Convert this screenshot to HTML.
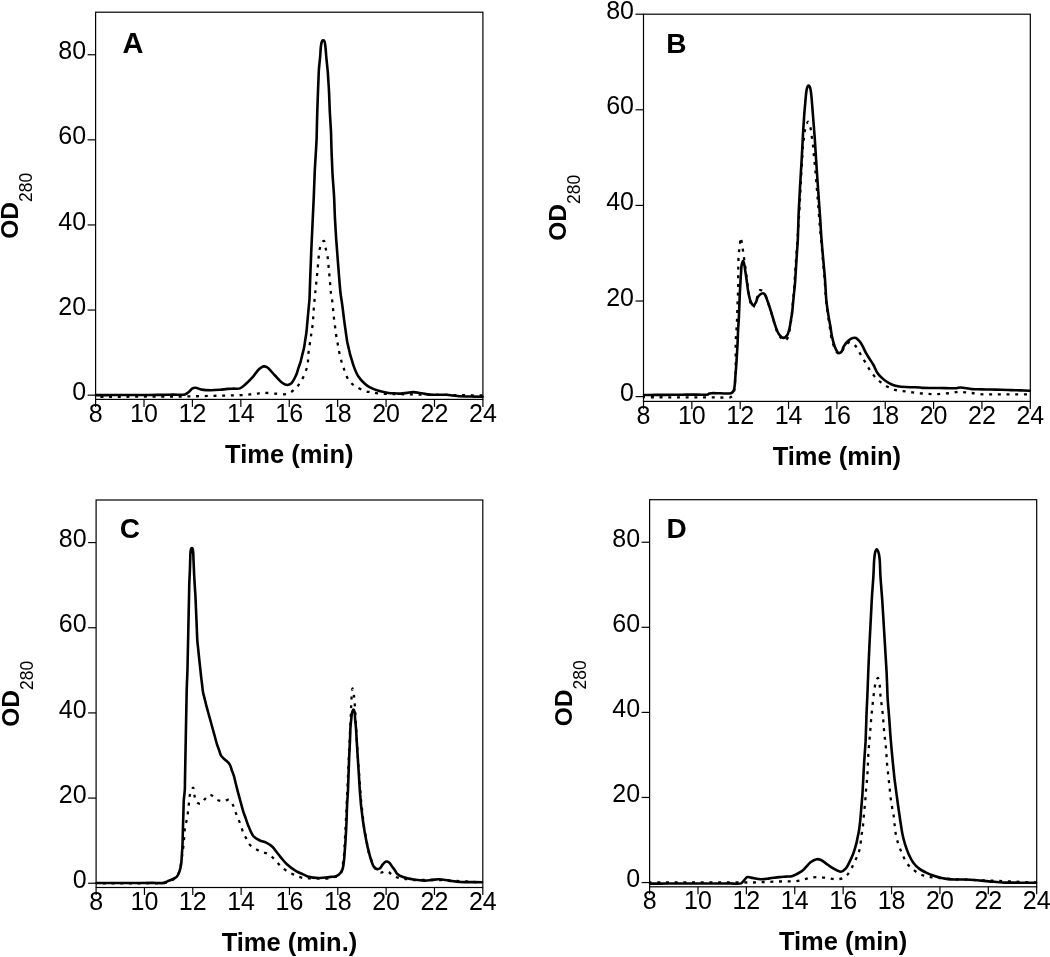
<!DOCTYPE html><html><head><meta charset="utf-8"><style>html,body{margin:0;padding:0;background:#fff;}svg{display:block;}</style></head><body>
<svg width="1050" height="957" viewBox="0 0 1050 957" style="font-family:'Liberation Sans', sans-serif;will-change:transform">
<rect width="1050" height="957" fill="#fff"/>
<g><rect x="95.6" y="12.2" width="387.30" height="387.20" fill="none" stroke="#000" stroke-width="1.2"/><line x1="87.6" y1="395.15" x2="95.6" y2="395.15" stroke="#000" stroke-width="1.2"/><text x="86.10" y="399.75" font-size="25" text-anchor="end">0</text><line x1="87.6" y1="310.05" x2="95.6" y2="310.05" stroke="#000" stroke-width="1.2"/><text x="86.10" y="314.65" font-size="25" text-anchor="end">20</text><line x1="87.6" y1="224.95" x2="95.6" y2="224.95" stroke="#000" stroke-width="1.2"/><text x="86.10" y="229.55" font-size="25" text-anchor="end">40</text><line x1="87.6" y1="139.85" x2="95.6" y2="139.85" stroke="#000" stroke-width="1.2"/><text x="86.10" y="144.45" font-size="25" text-anchor="end">60</text><line x1="87.6" y1="54.75" x2="95.6" y2="54.75" stroke="#000" stroke-width="1.2"/><text x="86.10" y="59.35" font-size="25" text-anchor="end">80</text><line x1="95.60" y1="399.4" x2="95.60" y2="406.9" stroke="#000" stroke-width="1.2"/><text x="95.60" y="422.00" font-size="25" text-anchor="middle">8</text><line x1="144.01" y1="399.4" x2="144.01" y2="406.9" stroke="#000" stroke-width="1.2"/><text x="144.01" y="422.00" font-size="25" text-anchor="middle">10</text><line x1="192.42" y1="399.4" x2="192.42" y2="406.9" stroke="#000" stroke-width="1.2"/><text x="192.42" y="422.00" font-size="25" text-anchor="middle">12</text><line x1="240.84" y1="399.4" x2="240.84" y2="406.9" stroke="#000" stroke-width="1.2"/><text x="240.84" y="422.00" font-size="25" text-anchor="middle">14</text><line x1="289.25" y1="399.4" x2="289.25" y2="406.9" stroke="#000" stroke-width="1.2"/><text x="289.25" y="422.00" font-size="25" text-anchor="middle">16</text><line x1="337.66" y1="399.4" x2="337.66" y2="406.9" stroke="#000" stroke-width="1.2"/><text x="337.66" y="422.00" font-size="25" text-anchor="middle">18</text><line x1="386.07" y1="399.4" x2="386.07" y2="406.9" stroke="#000" stroke-width="1.2"/><text x="386.07" y="422.00" font-size="25" text-anchor="middle">20</text><line x1="434.49" y1="399.4" x2="434.49" y2="406.9" stroke="#000" stroke-width="1.2"/><text x="434.49" y="422.00" font-size="25" text-anchor="middle">22</text><line x1="482.90" y1="399.4" x2="482.90" y2="406.9" stroke="#000" stroke-width="1.2"/><text x="482.90" y="422.00" font-size="25" text-anchor="middle">24</text><text x="289.25" y="462.70" font-size="25.5" font-weight="bold" text-anchor="middle">Time (min)</text><text transform="translate(18.40,205.80) rotate(-90)" font-size="24.5" font-weight="bold" text-anchor="middle">OD<tspan font-size="17.5" font-weight="normal" dy="13.8">280</tspan></text><text x="122.39999999999999" y="53.4" font-size="29" font-weight="bold">A</text><path d="M96.00,396.80 C97.75,396.80 103.00,396.78 106.50,396.78 C110.00,396.77 113.50,396.76 117.00,396.75 C120.50,396.74 124.00,396.73 127.50,396.73 C131.00,396.72 134.50,396.71 138.00,396.70 C141.50,396.69 145.00,396.68 148.50,396.68 C152.00,396.67 155.50,396.66 159.00,396.65 C162.50,396.64 166.00,396.63 169.50,396.62 C173.00,396.62 176.53,396.64 180.00,396.60 C183.42,396.56 186.78,396.44 190.17,396.37 C193.56,396.29 196.94,396.21 200.33,396.13 C203.72,396.06 207.11,395.98 210.50,395.90 C213.89,395.82 217.28,395.74 220.67,395.67 C224.06,395.59 227.44,395.51 230.83,395.43 C234.22,395.36 237.72,395.38 241.00,395.20 C244.09,395.03 247.20,394.69 250.00,394.40 C252.45,394.15 254.60,393.87 256.90,393.60 C259.20,393.33 261.22,392.86 263.80,392.80 C267.08,392.73 271.21,393.40 275.00,393.60 C278.90,393.81 283.73,394.75 286.90,394.00 C289.24,393.45 290.87,392.15 292.60,390.90 C294.30,389.67 295.79,388.22 297.20,386.60 C298.70,384.88 300.07,382.87 301.30,380.80 C302.58,378.65 303.69,376.41 304.70,373.90 C305.83,371.09 307.04,367.58 307.60,364.70 C308.07,362.26 307.97,360.10 308.15,357.80 C308.33,355.50 308.40,353.49 308.70,350.90 C309.10,347.55 309.98,342.89 310.50,339.40 C310.94,336.48 311.27,334.03 311.65,331.35 C312.03,328.67 312.52,325.99 312.80,323.30 C313.08,320.62 313.17,317.93 313.35,315.25 C313.53,312.57 313.68,310.02 313.90,307.20 C314.15,304.07 314.49,300.48 314.80,297.30 C315.09,294.33 315.41,291.53 315.70,288.70 C315.98,285.93 316.23,283.23 316.50,280.50 C316.77,277.77 317.04,275.07 317.30,272.30 C317.57,269.46 317.83,266.53 318.10,263.65 C318.37,260.77 318.52,257.87 318.90,255.00 C319.28,252.12 319.44,248.87 320.40,246.40 C321.23,244.27 323.02,240.75 323.90,240.90 C324.90,241.07 325.17,246.21 325.80,249.00 C326.47,251.97 327.33,255.17 327.80,258.20 C328.25,261.10 328.33,263.93 328.60,266.80 C328.87,269.67 329.14,272.53 329.40,275.40 C329.66,278.27 329.90,281.13 330.15,284.00 C330.40,286.87 330.55,289.71 330.90,292.60 C331.26,295.55 331.92,298.55 332.30,301.50 C332.67,304.39 332.87,307.23 333.15,310.10 C333.43,312.97 333.67,315.83 334.00,318.70 C334.33,321.58 334.77,324.47 335.15,327.35 C335.53,330.23 335.86,333.17 336.30,336.00 C336.73,338.74 337.27,341.37 337.75,344.05 C338.23,346.73 338.57,349.19 339.20,352.10 C339.96,355.60 341.15,360.44 342.10,363.60 C342.78,365.86 343.43,367.43 344.10,369.35 C344.77,371.27 345.20,373.14 346.10,375.10 C347.13,377.34 348.42,380.06 350.10,382.00 C351.71,383.87 353.66,385.19 355.90,386.60 C358.54,388.26 362.26,390.17 365.10,391.10 C367.34,391.84 369.30,391.87 371.40,392.25 C373.50,392.63 375.28,393.12 377.70,393.40 C380.95,393.78 385.47,393.87 389.20,394.00 C392.72,394.12 396.04,394.11 399.47,394.17 C402.89,394.22 406.31,394.28 409.73,394.33 C413.16,394.39 416.56,394.44 420.00,394.50 C423.46,394.56 426.96,394.61 430.43,394.67 C433.91,394.72 437.39,394.78 440.87,394.83 C444.34,394.89 447.82,394.94 451.30,395.00 C454.78,395.06 458.26,395.11 461.73,395.17 C465.21,395.22 468.69,395.28 472.17,395.33 C475.64,395.39 480.86,395.47 482.60,395.50" fill="none" stroke="#000" stroke-width="2.3" stroke-dasharray="3 5.7" stroke-dashoffset="4.32" stroke-linejoin="round"/><path d="M96.00,395.10 C97.80,395.10 103.20,395.09 106.80,395.08 C110.40,395.07 114.00,395.07 117.60,395.06 C121.20,395.05 124.80,395.05 128.40,395.04 C132.00,395.03 135.60,395.03 139.20,395.02 C142.80,395.01 146.33,395.03 150.00,395.00 C153.81,394.97 157.76,394.89 161.63,394.83 C165.51,394.78 169.39,394.72 173.27,394.67 C177.14,394.61 182.16,395.32 184.90,394.50 C186.60,393.99 187.49,393.07 188.70,392.10 C190.03,391.04 191.19,388.97 192.50,388.30 C193.51,387.79 194.40,387.72 195.60,387.80 C197.30,387.91 199.44,389.18 201.70,389.60 C204.41,390.10 207.76,390.27 210.80,390.30 C213.86,390.33 217.08,390.05 220.00,389.80 C222.66,389.57 225.19,389.09 227.60,388.90 C229.77,388.73 231.73,388.73 233.80,388.65 C235.87,388.57 238.09,389.09 240.00,388.40 C242.01,387.67 243.58,385.88 245.50,384.20 C247.90,382.10 250.77,379.20 253.10,376.60 C255.32,374.13 257.19,370.76 259.20,369.00 C260.64,367.74 262.10,366.64 263.50,366.40 C264.66,366.20 265.66,366.42 266.90,367.10 C269.10,368.31 271.96,372.39 274.50,375.00 C277.03,377.59 279.63,381.01 282.10,382.70 C283.90,383.93 285.76,385.01 287.40,385.00 C288.83,384.99 290.17,384.31 291.40,383.20 C293.19,381.58 294.90,377.75 296.10,375.10 C297.15,372.76 297.63,370.50 298.40,368.20 C299.17,365.90 300.03,363.61 300.70,361.30 C301.36,359.01 301.83,356.70 302.40,354.40 C302.97,352.10 303.63,349.86 304.10,347.50 C304.59,345.06 304.87,342.50 305.25,340.00 C305.63,337.50 306.07,335.17 306.40,332.50 C306.77,329.47 307.00,326.00 307.30,322.75 C307.60,319.50 307.92,315.98 308.20,313.00 C308.43,310.47 308.63,308.33 308.85,306.00 C309.07,303.67 309.33,301.64 309.50,299.00 C309.72,295.58 309.77,291.13 309.90,287.20 C310.03,283.27 310.17,279.00 310.30,275.40 C310.41,272.37 310.52,269.82 310.63,267.03 C310.74,264.24 310.86,261.46 310.97,258.67 C311.08,255.88 311.18,253.17 311.30,250.30 C311.43,247.26 311.59,244.03 311.73,240.90 C311.88,237.77 312.02,234.63 312.17,231.50 C312.31,228.37 312.45,225.41 312.60,222.10 C312.77,218.40 312.97,214.27 313.15,210.35 C313.33,206.43 313.54,202.30 313.70,198.60 C313.84,195.29 313.94,192.33 314.07,189.20 C314.19,186.07 314.31,182.93 314.43,179.80 C314.56,176.67 314.64,173.60 314.80,170.40 C314.96,167.07 315.20,163.60 315.40,160.20 C315.60,156.80 315.80,153.49 316.00,150.00 C316.21,146.33 316.47,142.16 316.60,138.70 C316.71,135.76 316.73,133.26 316.80,130.53 C316.87,127.81 316.93,125.09 317.00,122.37 C317.07,119.64 317.12,116.96 317.20,114.20 C317.28,111.37 317.40,108.47 317.50,105.60 C317.60,102.73 317.70,99.87 317.80,97.00 C317.90,94.13 317.99,91.34 318.10,88.40 C318.22,85.31 318.37,82.07 318.50,78.90 C318.63,75.73 318.70,72.29 318.90,69.40 C319.07,66.97 319.33,64.93 319.55,62.70 C319.77,60.47 320.00,58.37 320.20,56.00 C320.42,53.34 320.52,49.95 320.80,47.50 C321.02,45.61 321.20,43.79 321.60,42.50 C321.87,41.63 322.14,40.69 322.60,40.40 C322.93,40.19 323.47,40.19 323.80,40.40 C324.26,40.69 324.54,41.63 324.80,42.50 C325.19,43.79 325.29,45.61 325.50,47.50 C325.77,49.96 325.99,53.70 326.20,56.00 C326.34,57.58 326.45,58.53 326.60,60.00 C326.78,61.81 327.00,64.03 327.20,66.05 C327.40,68.07 327.62,69.85 327.80,72.10 C328.03,74.91 328.20,78.43 328.40,81.60 C328.60,84.77 328.84,87.88 329.00,91.10 C329.17,94.44 329.27,97.90 329.40,101.30 C329.53,104.70 329.63,108.10 329.80,111.50 C329.97,114.90 330.20,118.30 330.40,121.70 C330.60,125.10 330.86,128.60 331.00,131.90 C331.13,135.01 331.17,137.93 331.25,140.95 C331.33,143.97 331.39,146.79 331.50,150.00 C331.63,153.66 331.83,157.83 332.00,161.75 C332.17,165.67 332.28,169.58 332.50,173.50 C332.72,177.42 333.03,181.33 333.30,185.25 C333.57,189.17 333.90,193.22 334.10,197.00 C334.29,200.52 334.37,203.80 334.50,207.20 C334.63,210.60 334.73,214.00 334.90,217.40 C335.07,220.80 335.30,224.20 335.50,227.60 C335.70,231.00 335.88,234.57 336.10,237.80 C336.30,240.73 336.52,243.38 336.73,246.17 C336.94,248.96 337.16,251.74 337.37,254.53 C337.58,257.32 337.77,259.98 338.00,262.90 C338.25,266.12 338.53,269.67 338.80,273.05 C339.07,276.43 339.31,279.85 339.60,283.20 C339.88,286.50 340.10,289.66 340.50,293.00 C340.92,296.52 341.63,300.34 342.10,303.80 C342.54,306.99 342.87,309.93 343.25,313.00 C343.63,316.07 343.98,319.09 344.40,322.20 C344.83,325.40 345.33,328.70 345.80,331.95 C346.27,335.20 346.66,338.81 347.20,341.70 C347.64,344.05 348.17,345.93 348.65,348.05 C349.13,350.17 349.55,352.35 350.10,354.40 C350.63,356.37 351.27,358.23 351.85,360.15 C352.43,362.07 352.79,363.73 353.60,365.90 C354.71,368.87 356.23,373.14 358.20,376.20 C360.09,379.14 362.88,382.03 365.10,384.00 C366.78,385.49 368.07,386.37 370.00,387.40 C372.40,388.69 375.59,389.88 378.60,390.80 C381.75,391.77 385.57,392.61 388.50,393.00 C390.79,393.31 392.63,393.20 394.70,393.30 C396.77,393.40 398.84,393.68 400.90,393.60 C402.96,393.52 405.00,393.10 407.05,392.85 C409.10,392.60 410.97,392.08 413.20,392.10 C415.85,392.12 419.12,392.86 421.90,393.30 C424.47,393.70 426.72,394.36 429.30,394.60 C432.07,394.86 435.10,394.67 438.00,394.70 C440.90,394.73 444.06,394.62 446.70,394.80 C448.93,394.95 450.80,395.30 452.85,395.55 C454.90,395.80 456.61,396.13 459.00,396.30 C462.29,396.53 466.87,396.43 470.80,396.50 C474.73,396.57 480.63,396.67 482.60,396.70" fill="none" stroke="#000" stroke-width="2.6" stroke-linejoin="round" stroke-linecap="round"/></g>
<g><rect x="643.5" y="14.2" width="386.80" height="387.20" fill="none" stroke="#000" stroke-width="1.2"/><line x1="635.5" y1="396.62" x2="643.5" y2="396.62" stroke="#000" stroke-width="1.2"/><text x="634.00" y="401.22" font-size="25" text-anchor="end">0</text><line x1="635.5" y1="301.01" x2="643.5" y2="301.01" stroke="#000" stroke-width="1.2"/><text x="634.00" y="305.61" font-size="25" text-anchor="end">20</text><line x1="635.5" y1="205.41" x2="643.5" y2="205.41" stroke="#000" stroke-width="1.2"/><text x="634.00" y="210.01" font-size="25" text-anchor="end">40</text><line x1="635.5" y1="109.80" x2="643.5" y2="109.80" stroke="#000" stroke-width="1.2"/><text x="634.00" y="114.40" font-size="25" text-anchor="end">60</text><line x1="635.5" y1="14.20" x2="643.5" y2="14.20" stroke="#000" stroke-width="1.2"/><text x="634.00" y="18.80" font-size="25" text-anchor="end">80</text><line x1="643.50" y1="401.4" x2="643.50" y2="408.9" stroke="#000" stroke-width="1.2"/><text x="643.50" y="424.00" font-size="25" text-anchor="middle">8</text><line x1="691.85" y1="401.4" x2="691.85" y2="408.9" stroke="#000" stroke-width="1.2"/><text x="691.85" y="424.00" font-size="25" text-anchor="middle">10</text><line x1="740.20" y1="401.4" x2="740.20" y2="408.9" stroke="#000" stroke-width="1.2"/><text x="740.20" y="424.00" font-size="25" text-anchor="middle">12</text><line x1="788.55" y1="401.4" x2="788.55" y2="408.9" stroke="#000" stroke-width="1.2"/><text x="788.55" y="424.00" font-size="25" text-anchor="middle">14</text><line x1="836.90" y1="401.4" x2="836.90" y2="408.9" stroke="#000" stroke-width="1.2"/><text x="836.90" y="424.00" font-size="25" text-anchor="middle">16</text><line x1="885.25" y1="401.4" x2="885.25" y2="408.9" stroke="#000" stroke-width="1.2"/><text x="885.25" y="424.00" font-size="25" text-anchor="middle">18</text><line x1="933.60" y1="401.4" x2="933.60" y2="408.9" stroke="#000" stroke-width="1.2"/><text x="933.60" y="424.00" font-size="25" text-anchor="middle">20</text><line x1="981.95" y1="401.4" x2="981.95" y2="408.9" stroke="#000" stroke-width="1.2"/><text x="981.95" y="424.00" font-size="25" text-anchor="middle">22</text><line x1="1030.30" y1="401.4" x2="1030.30" y2="408.9" stroke="#000" stroke-width="1.2"/><text x="1030.30" y="424.00" font-size="25" text-anchor="middle">24</text><text x="836.90" y="464.70" font-size="25.5" font-weight="bold" text-anchor="middle">Time (min)</text><text transform="translate(566.30,207.80) rotate(-90)" font-size="24.5" font-weight="bold" text-anchor="middle">OD<tspan font-size="17.5" font-weight="normal" dy="13.8">280</tspan></text><text x="666.2" y="53.3" font-size="28" font-weight="bold">B</text><path d="M644.00,397.20 C645.79,397.21 651.17,397.23 654.75,397.24 C658.33,397.25 661.92,397.26 665.50,397.27 C669.08,397.29 672.67,397.30 676.25,397.31 C679.83,397.33 683.42,397.34 687.00,397.35 C690.58,397.36 694.17,397.38 697.75,397.39 C701.33,397.40 704.92,397.41 708.50,397.43 C712.08,397.44 715.67,397.45 719.25,397.46 C722.83,397.47 727.62,398.36 730.00,397.50 C731.44,396.98 732.26,396.21 733.00,395.00 C734.01,393.36 734.24,390.43 734.60,388.00 C734.98,385.44 734.97,382.67 735.15,380.00 C735.33,377.33 735.60,374.82 735.70,372.00 C735.81,368.83 735.70,365.27 735.70,361.90 C735.70,358.53 735.70,355.17 735.70,351.80 C735.70,348.43 735.59,345.00 735.70,341.70 C735.80,338.51 736.10,335.43 736.30,332.30 C736.50,329.17 736.75,325.98 736.90,322.90 C737.05,319.92 737.10,317.03 737.20,314.10 C737.30,311.17 737.39,308.23 737.50,305.30 C737.61,302.37 737.73,299.43 737.85,296.50 C737.97,293.57 738.14,290.52 738.20,287.70 C738.25,285.10 738.20,282.70 738.20,280.20 C738.20,277.70 738.17,275.30 738.20,272.70 C738.23,269.88 738.33,266.83 738.40,263.90 C738.47,260.97 738.37,258.03 738.60,255.10 C738.83,252.16 739.45,249.24 739.80,246.30 C740.15,243.37 740.27,237.52 740.70,237.50 C741.18,237.48 742.06,244.87 742.60,248.20 C743.07,251.11 743.41,253.70 743.80,256.40 C744.18,259.03 744.53,261.60 744.90,264.20 C745.27,266.80 745.66,269.34 746.00,272.00 C746.36,274.77 746.67,277.67 747.00,280.50 C747.33,283.33 747.59,286.26 748.00,289.00 C748.38,291.58 748.90,294.00 749.35,296.50 C749.80,299.00 749.91,302.03 750.70,304.00 C751.28,305.46 752.23,307.56 753.00,307.50 C754.00,307.43 754.97,303.46 756.00,301.00 C757.31,297.87 758.35,290.86 760.10,290.20 C761.11,289.82 762.47,290.90 763.50,292.00 C765.19,293.81 766.64,298.70 767.70,301.50 C768.51,303.63 768.93,305.33 769.55,307.25 C770.17,309.17 770.79,311.02 771.40,313.00 C772.04,315.10 772.67,317.33 773.30,319.50 C773.93,321.67 774.39,323.65 775.20,326.00 C776.20,328.89 777.16,333.01 779.00,335.50 C780.62,337.70 783.54,340.72 785.20,340.50 C786.59,340.32 787.71,337.87 788.50,336.00 C789.51,333.61 789.50,330.00 790.00,327.00 C790.50,324.00 791.11,321.03 791.50,318.00 C791.89,314.92 792.06,311.78 792.33,308.67 C792.61,305.56 792.89,302.44 793.17,299.33 C793.44,296.22 793.75,293.17 794.00,290.00 C794.26,286.73 794.44,283.33 794.67,280.00 C794.89,276.67 795.11,273.33 795.33,270.00 C795.56,266.67 795.76,263.33 796.00,260.00 C796.24,256.67 796.50,253.33 796.75,250.00 C797.00,246.67 797.26,243.42 797.50,240.00 C797.75,236.41 797.97,232.64 798.20,228.97 C798.43,225.29 798.67,221.61 798.90,217.93 C799.13,214.26 799.39,210.60 799.60,206.90 C799.81,203.16 799.98,199.39 800.17,195.63 C800.36,191.88 800.54,188.12 800.73,184.37 C800.92,180.61 801.10,176.69 801.30,173.10 C801.49,169.81 801.70,166.79 801.90,163.63 C802.10,160.48 802.30,157.32 802.50,154.17 C802.70,151.01 802.82,147.65 803.10,144.70 C803.35,142.09 803.73,139.80 804.05,137.35 C804.37,134.90 804.39,132.50 805.00,130.00 C805.67,127.26 807.13,121.60 808.10,121.60 C808.95,121.60 809.91,125.69 810.50,128.00 C811.16,130.57 811.30,133.57 811.70,136.35 C812.10,139.13 812.56,141.83 812.90,144.70 C813.26,147.75 813.50,151.01 813.80,154.17 C814.10,157.32 814.40,160.48 814.70,163.63 C815.00,166.79 815.31,169.85 815.60,173.10 C815.90,176.55 816.18,180.21 816.47,183.77 C816.76,187.32 817.04,190.88 817.33,194.43 C817.62,197.99 817.91,201.48 818.20,205.10 C818.50,208.85 818.80,212.73 819.10,216.55 C819.40,220.37 819.68,224.22 820.00,228.00 C820.31,231.70 820.67,235.33 821.00,239.00 C821.33,242.67 821.68,246.48 822.00,250.00 C822.29,253.24 822.56,256.22 822.83,259.33 C823.11,262.44 823.39,265.56 823.67,268.67 C823.94,271.78 824.26,275.01 824.50,278.00 C824.72,280.77 824.88,283.33 825.07,286.00 C825.26,288.67 825.44,291.33 825.63,294.00 C825.82,296.67 825.95,299.53 826.20,302.00 C826.42,304.15 826.73,306.00 827.00,308.00 C827.27,310.00 827.52,312.00 827.80,314.00 C828.08,316.00 828.40,318.00 828.70,320.00 C829.00,322.00 829.30,324.00 829.60,326.00 C829.90,328.00 830.20,330.00 830.50,332.00 C830.80,334.00 830.92,335.87 831.40,338.00 C831.96,340.49 832.82,343.51 833.80,346.00 C834.71,348.32 835.66,351.19 837.00,352.50 C837.93,353.42 839.25,354.28 840.20,354.00 C841.43,353.64 842.23,350.61 843.30,349.00 C844.33,347.44 845.30,345.67 846.50,344.50 C847.53,343.49 848.64,342.22 849.90,342.20 C851.47,342.18 853.71,344.09 855.20,345.60 C856.79,347.21 857.75,349.59 859.00,351.70 C860.32,353.92 861.62,356.47 862.90,358.60 C864.05,360.50 865.23,362.12 866.30,363.90 C867.36,365.65 868.22,367.48 869.30,369.20 C870.38,370.92 871.52,372.54 872.80,374.20 C874.17,375.97 875.67,377.96 877.30,379.50 C878.85,380.97 880.59,382.09 882.30,383.30 C884.02,384.52 885.64,385.76 887.60,386.80 C889.79,387.96 892.40,389.10 894.90,389.80 C897.37,390.49 899.97,390.62 902.50,391.00 C905.03,391.38 907.57,391.75 910.10,392.10 C912.63,392.45 915.09,392.84 917.70,393.10 C920.45,393.38 923.37,393.50 926.20,393.70 C929.03,393.90 931.88,394.31 934.70,394.30 C937.50,394.29 940.27,393.87 943.05,393.65 C945.83,393.43 948.68,393.33 951.40,393.00 C954.03,392.68 956.64,391.78 959.10,391.70 C961.34,391.63 963.40,392.13 965.55,392.35 C967.70,392.57 969.54,392.74 972.00,393.00 C975.30,393.35 979.76,394.09 983.60,394.30 C987.37,394.51 991.10,394.30 994.85,394.30 C998.60,394.30 1002.35,394.30 1006.10,394.30 C1009.85,394.30 1013.60,394.30 1017.35,394.30 C1021.10,394.30 1026.72,394.30 1028.60,394.30" fill="none" stroke="#000" stroke-width="2.3" stroke-dasharray="3 5.7" stroke-dashoffset="1.85" stroke-linejoin="round"/><path d="M644.00,395.00 C645.78,394.99 651.11,394.94 654.67,394.92 C658.22,394.89 661.78,394.86 665.33,394.83 C668.89,394.81 672.44,394.78 676.00,394.75 C679.56,394.72 683.11,394.69 686.67,394.67 C690.22,394.64 693.78,394.61 697.33,394.58 C700.89,394.56 706.11,395.13 708.00,394.50 C708.79,394.24 708.71,393.66 709.50,393.40 C711.40,392.77 716.67,393.33 720.25,393.30 C723.83,393.27 728.76,394.06 731.00,393.20 C732.25,392.72 732.91,392.00 733.50,391.00 C734.22,389.79 734.30,388.15 734.60,386.20 C735.05,383.26 735.20,378.79 735.50,375.00 C735.80,371.09 736.15,366.80 736.40,363.10 C736.62,359.88 736.77,357.07 736.95,354.05 C737.13,351.03 737.35,347.99 737.50,345.00 C737.65,342.07 737.73,339.20 737.85,336.30 C737.97,333.40 738.04,330.48 738.20,327.60 C738.36,324.75 738.64,321.92 738.80,319.10 C738.95,316.30 739.02,313.52 739.13,310.73 C739.24,307.94 739.36,305.16 739.47,302.37 C739.58,299.58 739.67,296.77 739.80,294.00 C739.93,291.27 740.10,288.57 740.25,285.85 C740.40,283.13 740.54,280.24 740.70,277.70 C740.84,275.48 741.00,273.53 741.15,271.45 C741.30,269.37 741.20,267.08 741.60,265.20 C741.95,263.58 742.73,260.78 743.20,260.80 C743.66,260.82 744.06,263.59 744.40,265.20 C744.80,267.09 745.03,269.37 745.35,271.45 C745.67,273.53 745.99,275.56 746.30,277.70 C746.62,279.94 746.93,282.30 747.25,284.60 C747.57,286.90 747.72,289.00 748.20,291.50 C748.79,294.54 749.61,299.02 750.70,301.50 C751.42,303.14 752.31,305.21 753.20,305.30 C753.99,305.38 754.96,303.92 755.70,302.80 C756.72,301.25 757.01,298.12 758.20,296.50 C759.21,295.12 760.80,293.67 762.00,293.40 C762.87,293.20 763.75,293.37 764.50,294.00 C765.83,295.13 766.65,298.72 767.70,301.50 C768.96,304.86 770.39,309.57 771.40,312.80 C772.15,315.20 772.67,317.00 773.30,319.10 C773.93,321.20 774.38,323.15 775.20,325.40 C776.19,328.12 777.40,332.02 779.00,334.20 C780.23,335.88 781.88,337.81 783.30,337.90 C784.57,337.98 786.11,336.69 787.10,335.40 C788.41,333.70 788.97,330.43 789.60,327.90 C790.22,325.41 790.43,322.87 790.85,320.35 C791.27,317.83 791.75,315.49 792.10,312.80 C792.50,309.74 792.74,306.24 793.07,302.97 C793.39,299.69 793.71,296.41 794.03,293.13 C794.36,289.86 794.74,286.50 795.00,283.30 C795.25,280.26 795.38,277.37 795.57,274.40 C795.76,271.43 795.94,268.47 796.13,265.50 C796.32,262.53 796.51,259.51 796.70,256.60 C796.88,253.78 797.07,251.07 797.25,248.30 C797.43,245.53 797.66,242.84 797.80,240.00 C797.95,237.00 798.00,233.82 798.10,230.73 C798.20,227.64 798.30,224.56 798.40,221.47 C798.50,218.38 798.57,215.25 798.70,212.20 C798.83,209.21 799.01,206.29 799.17,203.33 C799.32,200.38 799.48,197.42 799.63,194.47 C799.79,191.51 799.93,188.56 800.10,185.60 C800.27,182.64 800.46,179.67 800.63,176.70 C800.81,173.73 800.99,170.77 801.17,167.80 C801.34,164.83 801.53,161.87 801.70,158.90 C801.87,155.93 802.01,152.97 802.17,150.00 C802.32,147.03 802.48,144.07 802.63,141.10 C802.79,138.13 802.92,135.23 803.10,132.20 C803.29,129.02 803.53,125.70 803.75,122.45 C803.97,119.20 804.16,115.79 804.40,112.70 C804.62,109.90 804.87,107.37 805.10,104.70 C805.33,102.03 805.54,99.25 805.80,96.70 C806.04,94.37 806.23,91.86 806.60,90.00 C806.88,88.63 807.11,87.24 807.60,86.50 C807.91,86.04 808.34,85.57 808.70,85.60 C809.08,85.63 809.49,86.23 809.80,86.80 C810.30,87.74 810.52,89.41 810.80,91.00 C811.16,93.03 811.37,95.57 811.60,98.00 C811.85,100.62 812.03,103.47 812.25,106.20 C812.47,108.93 812.67,111.43 812.90,114.40 C813.18,117.93 813.50,122.13 813.80,126.00 C814.10,129.87 814.44,133.99 814.70,137.60 C814.92,140.75 815.08,143.51 815.27,146.47 C815.46,149.42 815.64,152.38 815.83,155.33 C816.02,158.29 816.21,161.24 816.40,164.20 C816.59,167.16 816.80,170.13 817.00,173.10 C817.20,176.07 817.40,179.03 817.60,182.00 C817.80,184.97 818.00,187.99 818.20,190.90 C818.40,193.72 818.60,196.43 818.80,199.20 C819.00,201.97 819.20,204.73 819.40,207.50 C819.60,210.27 819.81,212.93 820.00,215.80 C820.21,218.88 820.40,222.20 820.60,225.40 C820.80,228.60 821.00,232.12 821.20,235.00 C821.37,237.35 821.53,239.27 821.70,241.40 C821.87,243.53 822.00,245.43 822.20,247.80 C822.45,250.77 822.80,254.49 823.10,257.83 C823.40,261.18 823.70,264.52 824.00,267.87 C824.30,271.21 824.64,274.47 824.90,277.90 C825.17,281.49 825.37,285.27 825.60,288.95 C825.83,292.63 825.96,296.47 826.30,300.00 C826.61,303.27 827.07,306.38 827.50,309.40 C827.90,312.23 828.33,314.83 828.80,317.60 C829.29,320.46 829.93,323.44 830.40,326.30 C830.86,329.07 831.08,331.79 831.60,334.50 C832.12,337.22 832.77,340.09 833.50,342.60 C834.15,344.85 834.78,347.08 835.70,348.90 C836.49,350.47 837.41,352.65 838.50,353.00 C839.34,353.27 840.51,352.73 841.30,352.00 C842.43,350.95 842.81,348.11 843.80,346.40 C844.73,344.79 845.81,343.28 847.00,342.00 C848.12,340.80 849.56,339.58 850.70,338.90 C851.51,338.42 852.17,338.16 853.00,338.00 C853.92,337.83 855.06,337.64 856.00,338.00 C857.09,338.42 858.05,339.62 859.00,340.70 C860.10,341.96 861.08,343.46 862.10,345.20 C863.38,347.38 864.57,350.51 865.90,352.90 C867.12,355.08 868.43,356.98 869.70,359.00 C870.96,361.01 872.29,362.84 873.50,365.00 C874.83,367.37 875.89,370.55 877.30,372.70 C878.47,374.48 879.71,375.82 881.10,377.20 C882.50,378.59 884.00,379.83 885.70,381.00 C887.54,382.28 889.71,383.63 891.80,384.50 C893.78,385.33 895.74,385.79 897.90,386.20 C900.28,386.65 902.99,386.83 905.50,387.00 C907.94,387.17 910.33,387.17 912.75,387.25 C915.17,387.33 918.09,387.34 920.00,387.50 C921.25,387.60 921.74,387.81 923.10,387.90 C925.67,388.08 930.54,387.97 934.27,388.00 C937.99,388.03 941.71,388.07 945.43,388.10 C949.16,388.13 953.87,388.44 956.60,388.20 C958.21,388.06 958.79,387.54 960.40,387.50 C963.21,387.44 968.28,388.80 972.00,389.10 C975.41,389.37 978.58,389.26 981.87,389.33 C985.16,389.41 988.44,389.49 991.73,389.57 C995.02,389.64 998.35,389.71 1001.60,389.80 C1004.78,389.89 1007.89,390.00 1011.03,390.10 C1014.18,390.20 1017.32,390.30 1020.47,390.40 C1023.61,390.50 1028.33,390.65 1029.90,390.70" fill="none" stroke="#000" stroke-width="2.6" stroke-linejoin="round" stroke-linecap="round"/></g>
<g><rect x="96.1" y="500.0" width="386.70" height="387.50" fill="none" stroke="#000" stroke-width="1.2"/><line x1="88.1" y1="883.24" x2="96.1" y2="883.24" stroke="#000" stroke-width="1.2"/><text x="86.60" y="887.84" font-size="25" text-anchor="end">0</text><line x1="88.1" y1="798.08" x2="96.1" y2="798.08" stroke="#000" stroke-width="1.2"/><text x="86.60" y="802.68" font-size="25" text-anchor="end">20</text><line x1="88.1" y1="712.91" x2="96.1" y2="712.91" stroke="#000" stroke-width="1.2"/><text x="86.60" y="717.51" font-size="25" text-anchor="end">40</text><line x1="88.1" y1="627.75" x2="96.1" y2="627.75" stroke="#000" stroke-width="1.2"/><text x="86.60" y="632.35" font-size="25" text-anchor="end">60</text><line x1="88.1" y1="542.58" x2="96.1" y2="542.58" stroke="#000" stroke-width="1.2"/><text x="86.60" y="547.18" font-size="25" text-anchor="end">80</text><line x1="96.10" y1="887.5" x2="96.10" y2="895.0" stroke="#000" stroke-width="1.2"/><text x="96.10" y="910.10" font-size="25" text-anchor="middle">8</text><line x1="144.44" y1="887.5" x2="144.44" y2="895.0" stroke="#000" stroke-width="1.2"/><text x="144.44" y="910.10" font-size="25" text-anchor="middle">10</text><line x1="192.78" y1="887.5" x2="192.78" y2="895.0" stroke="#000" stroke-width="1.2"/><text x="192.78" y="910.10" font-size="25" text-anchor="middle">12</text><line x1="241.11" y1="887.5" x2="241.11" y2="895.0" stroke="#000" stroke-width="1.2"/><text x="241.11" y="910.10" font-size="25" text-anchor="middle">14</text><line x1="289.45" y1="887.5" x2="289.45" y2="895.0" stroke="#000" stroke-width="1.2"/><text x="289.45" y="910.10" font-size="25" text-anchor="middle">16</text><line x1="337.79" y1="887.5" x2="337.79" y2="895.0" stroke="#000" stroke-width="1.2"/><text x="337.79" y="910.10" font-size="25" text-anchor="middle">18</text><line x1="386.12" y1="887.5" x2="386.12" y2="895.0" stroke="#000" stroke-width="1.2"/><text x="386.12" y="910.10" font-size="25" text-anchor="middle">20</text><line x1="434.46" y1="887.5" x2="434.46" y2="895.0" stroke="#000" stroke-width="1.2"/><text x="434.46" y="910.10" font-size="25" text-anchor="middle">22</text><line x1="482.80" y1="887.5" x2="482.80" y2="895.0" stroke="#000" stroke-width="1.2"/><text x="482.80" y="910.10" font-size="25" text-anchor="middle">24</text><text x="289.45" y="950.80" font-size="25.5" font-weight="bold" text-anchor="middle">Time (min.)</text><text transform="translate(18.90,693.75) rotate(-90)" font-size="24.5" font-weight="bold" text-anchor="middle">OD<tspan font-size="17.5" font-weight="normal" dy="13.8">280</tspan></text><text x="119.8" y="537.8000000000001" font-size="28" font-weight="bold">C</text><path d="M96.50,883.30 C98.36,883.30 103.96,883.29 107.68,883.28 C111.41,883.28 115.14,883.27 118.87,883.27 C122.59,883.26 126.32,883.26 130.05,883.25 C133.78,883.24 137.51,883.24 141.23,883.23 C144.96,883.23 148.69,883.22 152.42,883.22 C156.14,883.21 160.43,883.73 163.60,883.20 C166.07,882.79 167.95,881.94 170.00,881.00 C172.08,880.05 174.43,879.13 176.00,877.50 C177.62,875.82 178.63,873.45 179.50,871.00 C180.49,868.20 180.81,864.55 181.30,861.50 C181.76,858.69 182.03,856.07 182.40,853.35 C182.77,850.63 183.19,847.97 183.50,845.20 C183.82,842.34 184.00,839.37 184.25,836.45 C184.50,833.53 184.56,830.61 185.00,827.70 C185.44,824.76 186.37,821.84 186.90,818.90 C187.43,815.98 187.83,812.98 188.20,810.10 C188.56,807.35 188.76,804.75 189.10,802.00 C189.46,799.13 189.49,795.74 190.30,793.20 C190.98,791.06 192.51,787.49 193.20,787.60 C193.99,787.73 193.89,793.19 194.50,795.70 C195.05,797.96 195.38,800.63 196.60,802.00 C197.61,803.13 199.41,804.18 200.70,803.90 C202.28,803.56 203.51,800.33 205.10,798.80 C206.65,797.31 208.28,794.84 210.10,794.80 C212.20,794.75 214.64,798.72 217.00,799.80 C219.06,800.74 221.27,801.33 223.30,801.30 C225.23,801.27 227.34,799.29 228.90,799.80 C230.49,800.32 231.68,802.69 232.70,804.50 C233.83,806.50 234.35,809.17 235.20,811.40 C236.01,813.53 236.82,815.43 237.70,817.60 C238.68,820.01 239.86,822.61 240.80,825.20 C241.76,827.84 242.38,830.97 243.40,833.30 C244.23,835.21 245.29,836.57 246.20,838.30 C247.16,840.13 247.59,842.32 249.00,844.00 C250.61,845.92 253.44,847.53 255.70,848.90 C257.78,850.16 259.87,851.13 262.00,852.00 C264.07,852.85 266.31,852.99 268.30,854.10 C270.50,855.33 272.56,857.42 274.50,859.30 C276.46,861.19 278.06,863.52 280.00,865.40 C281.90,867.24 283.78,869.00 286.00,870.50 C288.35,872.09 291.05,873.38 293.80,874.60 C296.70,875.89 299.71,877.36 303.00,878.00 C306.57,878.69 310.67,878.23 314.50,878.35 C318.33,878.47 322.80,879.01 326.00,878.70 C328.34,878.48 330.00,877.80 332.00,877.35 C334.00,876.90 336.34,877.04 338.00,876.00 C339.69,874.94 341.13,873.06 342.00,871.00 C343.03,868.55 342.73,865.00 343.10,862.00 C343.47,859.00 343.92,856.18 344.20,853.00 C344.51,849.44 344.60,845.44 344.80,841.67 C345.00,837.89 345.20,834.11 345.40,830.33 C345.60,826.56 345.81,822.78 346.00,819.00 C346.19,815.22 346.36,811.44 346.53,807.67 C346.71,803.89 346.89,800.11 347.07,796.33 C347.24,792.56 347.42,788.81 347.60,785.00 C347.78,781.14 347.96,777.22 348.13,773.33 C348.31,769.44 348.49,765.56 348.67,761.67 C348.84,757.78 349.03,753.74 349.20,750.00 C349.36,746.54 349.51,743.33 349.67,740.00 C349.82,736.67 349.98,733.33 350.13,730.00 C350.29,726.67 350.46,723.33 350.60,720.00 C350.74,716.67 350.87,713.33 351.00,710.00 C351.13,706.67 351.17,703.45 351.40,700.00 C351.65,696.30 352.00,688.53 352.50,688.50 C352.91,688.48 353.62,693.38 354.00,696.00 C354.41,698.85 354.56,701.85 354.80,705.00 C355.07,708.48 355.32,712.75 355.50,716.00 C355.65,718.60 355.73,720.67 355.85,723.00 C355.97,725.33 356.06,727.42 356.20,730.00 C356.38,733.18 356.64,737.11 356.87,740.67 C357.09,744.22 357.31,747.78 357.53,751.33 C357.76,754.89 357.97,758.58 358.20,762.00 C358.42,765.17 358.65,768.12 358.88,771.17 C359.10,774.23 359.32,777.29 359.55,780.35 C359.77,783.41 360.00,786.47 360.22,789.53 C360.45,792.58 360.62,795.64 360.90,798.70 C361.18,801.77 361.57,804.83 361.90,807.90 C362.23,810.97 362.57,814.03 362.90,817.10 C363.23,820.17 363.47,823.31 363.90,826.30 C364.32,829.18 364.92,831.92 365.43,834.73 C365.94,837.54 366.46,840.36 366.97,843.17 C367.48,845.98 367.80,848.93 368.50,851.60 C369.16,854.12 370.17,856.40 371.00,858.80 C371.83,861.20 372.13,863.81 373.50,866.00 C374.99,868.38 377.45,871.58 379.90,872.40 C382.16,873.15 385.28,870.70 387.50,871.30 C389.62,871.88 390.90,874.54 393.00,875.70 C395.26,876.95 398.21,877.82 400.70,878.40 C402.94,878.92 405.07,878.93 407.25,879.20 C409.43,879.47 411.46,879.86 413.80,880.00 C416.50,880.16 419.62,880.00 422.53,880.00 C425.44,880.00 428.36,880.00 431.27,880.00 C434.18,880.00 436.96,879.91 440.00,880.00 C443.34,880.10 447.00,880.42 450.50,880.62 C454.00,880.83 457.50,881.04 461.00,881.25 C464.50,881.46 468.00,881.67 471.50,881.88 C475.00,882.08 480.25,882.40 482.00,882.50" fill="none" stroke="#000" stroke-width="2.3" stroke-dasharray="3 5.7" stroke-dashoffset="2.39" stroke-linejoin="round"/><path d="M96.50,883.00 C98.36,883.00 103.96,882.99 107.68,882.98 C111.41,882.98 115.14,882.97 118.87,882.97 C122.59,882.96 126.32,882.96 130.05,882.95 C133.78,882.94 137.51,882.94 141.23,882.93 C144.96,882.93 148.69,882.92 152.42,882.92 C156.14,882.91 160.89,883.42 163.60,882.90 C165.24,882.59 166.01,881.97 167.40,881.40 C169.11,880.70 171.42,879.86 173.10,879.00 C174.52,878.27 175.87,877.84 176.90,876.70 C178.13,875.34 178.90,873.05 179.60,871.00 C180.36,868.78 180.82,866.38 181.20,863.80 C181.63,860.87 181.68,857.47 181.90,854.30 C182.12,851.13 182.36,847.96 182.50,844.80 C182.64,841.65 182.67,838.50 182.75,835.35 C182.83,832.20 182.91,828.98 183.00,825.90 C183.08,822.97 183.18,820.17 183.27,817.30 C183.36,814.43 183.44,811.57 183.53,808.70 C183.62,805.83 183.61,803.08 183.80,800.10 C184.01,796.87 184.61,793.27 184.80,790.00 C184.98,786.93 184.91,784.04 184.97,781.07 C185.02,778.09 185.08,775.11 185.13,772.13 C185.19,769.16 185.24,766.29 185.30,763.20 C185.36,759.85 185.43,756.23 185.50,752.75 C185.57,749.27 185.63,745.78 185.70,742.30 C185.77,738.82 185.83,735.33 185.90,731.85 C185.97,728.37 186.03,724.88 186.10,721.40 C186.17,717.91 186.23,714.42 186.30,710.93 C186.37,707.44 186.43,703.96 186.50,700.47 C186.57,696.98 186.60,693.51 186.70,690.00 C186.80,686.44 186.97,682.83 187.10,679.25 C187.23,675.67 187.40,672.08 187.50,668.50 C187.60,664.94 187.65,661.40 187.72,657.85 C187.80,654.30 187.87,650.75 187.95,647.20 C188.02,643.65 188.10,640.10 188.18,636.55 C188.25,633.00 188.33,629.45 188.40,625.90 C188.47,622.35 188.55,618.80 188.62,615.25 C188.70,611.70 188.78,608.15 188.85,604.60 C188.93,601.05 189.00,597.50 189.08,593.95 C189.15,590.40 189.20,586.43 189.30,583.30 C189.38,580.82 189.50,578.87 189.60,576.65 C189.70,574.43 189.81,572.44 189.90,570.00 C190.01,567.01 190.08,563.20 190.20,560.00 C190.31,557.05 190.32,553.67 190.60,551.50 C190.78,550.14 190.81,548.60 191.30,548.20 C191.58,547.97 192.12,547.97 192.40,548.20 C192.89,548.60 192.92,550.14 193.10,551.50 C193.38,553.67 193.38,557.30 193.50,560.00 C193.61,562.45 193.69,564.40 193.80,567.00 C193.94,570.25 194.11,574.44 194.30,578.00 C194.48,581.35 194.70,584.50 194.90,587.75 C195.10,591.00 195.33,594.18 195.50,597.50 C195.68,600.97 195.80,604.60 195.95,608.15 C196.10,611.70 196.25,615.25 196.40,618.80 C196.55,622.35 196.70,625.90 196.85,629.45 C197.00,633.00 197.06,636.71 197.30,640.10 C197.52,643.20 197.90,646.03 198.20,649.00 C198.50,651.97 198.78,654.87 199.10,657.90 C199.43,661.08 199.80,664.40 200.15,667.65 C200.50,670.90 200.85,674.39 201.20,677.40 C201.50,680.01 201.80,682.27 202.10,684.70 C202.40,687.13 202.56,689.58 203.00,692.00 C203.45,694.46 204.20,696.90 204.80,699.35 C205.40,701.80 205.92,704.10 206.60,706.70 C207.37,709.65 208.33,712.97 209.20,716.10 C210.07,719.23 210.93,722.36 211.80,725.50 C212.67,728.65 213.53,731.80 214.40,734.95 C215.27,738.10 216.12,741.65 217.00,744.40 C217.69,746.57 218.40,748.23 219.10,750.15 C219.80,752.07 220.13,754.25 221.20,755.90 C222.25,757.52 224.00,758.62 225.40,760.00 C226.80,761.39 228.55,762.56 229.60,764.20 C230.66,765.87 231.00,768.03 231.70,769.95 C232.40,771.87 233.15,773.59 233.80,775.70 C234.57,778.21 235.20,781.27 235.90,784.05 C236.60,786.83 237.25,789.53 238.00,792.40 C238.80,795.46 239.73,798.70 240.60,801.85 C241.47,805.00 242.28,808.37 243.20,811.30 C244.02,813.91 244.93,816.17 245.80,818.60 C246.67,821.03 247.29,823.28 248.40,825.90 C249.77,829.12 251.37,833.90 253.60,836.40 C255.38,838.41 257.73,839.45 259.90,840.50 C261.94,841.48 264.17,841.60 266.20,842.60 C268.35,843.66 270.64,845.17 272.40,846.80 C274.07,848.34 275.20,850.30 276.60,852.05 C278.00,853.80 279.25,855.44 280.80,857.30 C282.62,859.48 284.52,862.10 286.90,864.30 C289.54,866.74 293.31,869.45 296.10,871.10 C298.17,872.33 299.93,872.87 301.85,873.75 C303.77,874.63 305.30,875.72 307.60,876.40 C310.72,877.31 315.26,877.92 319.10,878.00 C322.93,878.08 327.67,877.21 330.60,876.90 C332.41,876.71 333.60,876.81 335.00,876.40 C336.40,875.98 337.83,875.42 339.00,874.40 C340.36,873.21 341.57,871.46 342.40,869.40 C343.47,866.75 343.71,862.68 344.10,859.50 C344.46,856.58 344.53,853.87 344.75,851.05 C344.97,848.23 345.21,845.45 345.40,842.60 C345.59,839.67 345.73,836.67 345.90,833.70 C346.07,830.73 346.26,827.85 346.40,824.80 C346.55,821.58 346.63,818.17 346.75,814.85 C346.87,811.53 346.95,807.98 347.10,804.90 C347.23,802.24 347.40,799.93 347.55,797.45 C347.70,794.97 347.88,792.48 348.00,790.00 C348.12,787.54 348.17,785.10 348.25,782.65 C348.33,780.20 348.41,777.90 348.50,775.30 C348.60,772.36 348.73,769.03 348.85,765.90 C348.97,762.77 349.07,759.41 349.20,756.50 C349.31,753.98 349.43,751.80 349.55,749.45 C349.67,747.10 349.80,744.75 349.90,742.40 C350.00,740.04 350.07,737.67 350.15,735.30 C350.23,732.93 350.23,730.73 350.40,728.20 C350.59,725.28 350.97,721.68 351.30,718.80 C351.58,716.35 351.70,713.68 352.20,712.00 C352.52,710.93 353.00,709.50 353.40,709.50 C353.80,709.50 354.31,710.93 354.60,712.00 C355.05,713.68 354.89,716.35 355.10,718.80 C355.34,721.68 355.78,725.28 356.00,728.20 C356.19,730.73 356.27,732.93 356.40,735.30 C356.53,737.67 356.66,740.04 356.80,742.40 C356.94,744.75 357.10,747.10 357.25,749.45 C357.40,751.80 357.55,754.15 357.70,756.50 C357.85,758.85 358.00,761.20 358.15,763.55 C358.30,765.90 358.44,768.06 358.60,770.60 C358.79,773.58 359.00,777.07 359.20,780.30 C359.40,783.53 359.59,786.98 359.80,790.00 C359.99,792.65 360.20,794.97 360.40,797.45 C360.60,799.93 360.75,802.42 361.00,804.90 C361.25,807.39 361.60,809.87 361.90,812.35 C362.20,814.83 362.47,817.41 362.80,819.80 C363.11,822.03 363.47,824.10 363.80,826.25 C364.13,828.40 364.43,830.55 364.80,832.70 C365.18,834.85 365.63,837.00 366.05,839.15 C366.47,841.30 366.83,843.50 367.30,845.60 C367.75,847.63 368.30,849.57 368.80,851.55 C369.30,853.53 369.62,855.33 370.30,857.50 C371.15,860.21 372.30,864.53 373.70,866.50 C374.59,867.75 375.63,868.71 376.70,869.00 C377.64,869.26 378.80,869.05 379.70,868.50 C380.86,867.80 381.60,865.69 382.70,864.50 C383.75,863.37 384.93,861.74 386.10,861.50 C387.08,861.30 388.19,861.84 389.10,862.50 C390.24,863.32 391.11,865.17 392.10,866.50 C393.08,867.81 394.09,869.11 395.00,870.40 C395.85,871.61 396.27,872.97 397.40,874.00 C398.76,875.24 400.69,876.16 402.90,877.00 C405.86,878.12 410.14,878.90 413.80,879.50 C417.44,880.10 421.53,880.60 424.80,880.60 C427.42,880.60 429.53,880.13 431.90,879.90 C434.27,879.67 436.44,879.15 439.00,879.20 C442.03,879.26 445.52,880.14 448.90,880.60 C452.44,881.08 456.14,881.75 459.80,882.00 C463.48,882.25 467.20,882.07 470.90,882.10 C474.60,882.13 480.15,882.18 482.00,882.20" fill="none" stroke="#000" stroke-width="2.6" stroke-linejoin="round" stroke-linecap="round"/></g>
<g><rect x="649.6" y="499.7" width="387.10" height="387.10" fill="none" stroke="#000" stroke-width="1.2"/><line x1="641.6" y1="882.55" x2="649.6" y2="882.55" stroke="#000" stroke-width="1.2"/><text x="640.10" y="887.15" font-size="25" text-anchor="end">0</text><line x1="641.6" y1="797.47" x2="649.6" y2="797.47" stroke="#000" stroke-width="1.2"/><text x="640.10" y="802.07" font-size="25" text-anchor="end">20</text><line x1="641.6" y1="712.39" x2="649.6" y2="712.39" stroke="#000" stroke-width="1.2"/><text x="640.10" y="716.99" font-size="25" text-anchor="end">40</text><line x1="641.6" y1="627.32" x2="649.6" y2="627.32" stroke="#000" stroke-width="1.2"/><text x="640.10" y="631.92" font-size="25" text-anchor="end">60</text><line x1="641.6" y1="542.24" x2="649.6" y2="542.24" stroke="#000" stroke-width="1.2"/><text x="640.10" y="546.84" font-size="25" text-anchor="end">80</text><line x1="649.60" y1="886.8" x2="649.60" y2="894.3" stroke="#000" stroke-width="1.2"/><text x="649.60" y="909.40" font-size="25" text-anchor="middle">8</text><line x1="697.99" y1="886.8" x2="697.99" y2="894.3" stroke="#000" stroke-width="1.2"/><text x="697.99" y="909.40" font-size="25" text-anchor="middle">10</text><line x1="746.38" y1="886.8" x2="746.38" y2="894.3" stroke="#000" stroke-width="1.2"/><text x="746.38" y="909.40" font-size="25" text-anchor="middle">12</text><line x1="794.76" y1="886.8" x2="794.76" y2="894.3" stroke="#000" stroke-width="1.2"/><text x="794.76" y="909.40" font-size="25" text-anchor="middle">14</text><line x1="843.15" y1="886.8" x2="843.15" y2="894.3" stroke="#000" stroke-width="1.2"/><text x="843.15" y="909.40" font-size="25" text-anchor="middle">16</text><line x1="891.54" y1="886.8" x2="891.54" y2="894.3" stroke="#000" stroke-width="1.2"/><text x="891.54" y="909.40" font-size="25" text-anchor="middle">18</text><line x1="939.93" y1="886.8" x2="939.93" y2="894.3" stroke="#000" stroke-width="1.2"/><text x="939.93" y="909.40" font-size="25" text-anchor="middle">20</text><line x1="988.31" y1="886.8" x2="988.31" y2="894.3" stroke="#000" stroke-width="1.2"/><text x="988.31" y="909.40" font-size="25" text-anchor="middle">22</text><line x1="1036.70" y1="886.8" x2="1036.70" y2="894.3" stroke="#000" stroke-width="1.2"/><text x="1036.70" y="909.40" font-size="25" text-anchor="middle">24</text><text x="843.15" y="950.10" font-size="25.5" font-weight="bold" text-anchor="middle">Time (min)</text><text transform="translate(572.40,693.25) rotate(-90)" font-size="24.5" font-weight="bold" text-anchor="middle">OD<tspan font-size="17.5" font-weight="normal" dy="13.8">280</tspan></text><text x="666.6" y="538.1" font-size="28" font-weight="bold">D</text><path d="M650.00,882.40 C651.90,882.40 657.58,882.40 661.38,882.40 C665.17,882.40 668.96,882.40 672.75,882.40 C676.54,882.40 680.33,882.40 684.12,882.40 C687.92,882.40 691.71,882.40 695.50,882.40 C699.29,882.40 703.08,882.40 706.88,882.40 C710.67,882.40 714.46,882.40 718.25,882.40 C722.04,882.40 725.83,882.40 729.62,882.40 C733.42,882.40 737.21,882.38 741.00,882.40 C744.77,882.42 748.74,882.55 752.30,882.50 C755.49,882.46 758.34,882.28 761.37,882.17 C764.39,882.06 767.41,881.94 770.43,881.83 C773.46,881.72 776.57,881.57 779.50,881.50 C782.26,881.43 784.87,881.43 787.55,881.40 C790.23,881.37 792.88,881.61 795.60,881.30 C798.46,880.97 801.65,880.03 804.30,879.40 C806.55,878.86 808.25,878.18 810.50,877.80 C813.12,877.36 816.28,877.03 819.10,877.10 C821.83,877.17 824.47,877.80 827.15,878.15 C829.83,878.50 832.59,879.19 835.20,879.20 C837.67,879.21 840.30,879.11 842.40,878.30 C844.32,877.56 845.97,876.33 847.40,874.80 C848.99,873.11 850.04,870.68 851.30,868.40 C852.68,865.91 854.08,862.93 855.30,860.40 C856.39,858.16 857.49,856.32 858.30,854.00 C859.20,851.43 859.80,848.46 860.30,845.60 C860.81,842.67 860.89,839.54 861.30,836.60 C861.70,833.75 862.33,831.01 862.70,828.20 C863.07,825.41 863.25,822.61 863.50,819.80 C863.75,816.98 863.92,814.16 864.20,811.30 C864.49,808.37 864.95,805.33 865.20,802.40 C865.44,799.56 865.49,796.83 865.70,794.00 C865.92,791.09 866.23,788.10 866.50,785.15 C866.77,782.20 867.10,779.20 867.30,776.30 C867.49,773.50 867.57,770.79 867.70,768.03 C867.83,765.28 867.97,762.52 868.10,759.77 C868.23,757.01 868.31,754.30 868.50,751.50 C868.69,748.61 869.00,745.63 869.25,742.70 C869.50,739.77 869.76,736.83 870.00,733.90 C870.24,730.97 870.47,728.03 870.70,725.10 C870.93,722.17 871.13,719.23 871.40,716.30 C871.67,713.38 872.00,710.47 872.30,707.55 C872.60,704.63 872.85,701.80 873.20,698.80 C873.57,695.62 874.02,691.99 874.50,689.00 C874.90,686.47 875.12,683.97 875.80,682.00 C876.34,680.43 877.31,677.93 877.90,678.00 C878.59,678.08 879.09,681.64 879.50,684.00 C880.07,687.27 880.12,692.24 880.50,695.90 C880.83,699.04 881.23,701.73 881.60,704.65 C881.97,707.57 882.40,710.48 882.70,713.40 C883.00,716.33 883.17,719.27 883.40,722.20 C883.63,725.13 883.82,728.07 884.10,731.00 C884.37,733.92 884.73,736.83 885.05,739.75 C885.37,742.67 885.75,745.64 886.00,748.50 C886.24,751.24 886.37,753.87 886.55,756.55 C886.73,759.23 886.86,761.86 887.10,764.60 C887.35,767.47 887.73,770.47 888.05,773.40 C888.37,776.33 888.69,779.33 889.00,782.20 C889.29,784.94 889.57,787.57 889.85,790.25 C890.13,792.93 890.34,795.50 890.70,798.30 C891.10,801.39 891.67,804.94 892.20,808.00 C892.68,810.77 893.29,813.14 893.70,815.90 C894.14,818.91 894.36,822.42 894.70,825.40 C895.00,828.05 895.16,830.33 895.60,832.90 C896.07,835.66 896.69,838.60 897.50,841.40 C898.32,844.23 899.50,847.18 900.50,849.80 C901.40,852.14 902.12,854.16 903.20,856.40 C904.38,858.86 905.80,861.78 907.40,863.90 C908.81,865.76 910.41,867.13 912.10,868.60 C913.84,870.11 915.73,871.61 917.70,872.80 C919.63,873.97 921.68,874.98 923.80,875.70 C925.92,876.42 927.97,876.73 930.40,877.10 C933.33,877.55 936.93,877.73 940.20,878.05 C943.47,878.37 946.65,878.77 950.00,879.00 C953.50,879.24 957.17,879.29 960.75,879.44 C964.33,879.58 967.92,879.73 971.50,879.88 C975.08,880.02 978.67,880.17 982.25,880.31 C985.83,880.46 989.42,880.60 993.00,880.75 C996.58,880.90 1000.17,881.04 1003.75,881.19 C1007.33,881.33 1010.92,881.48 1014.50,881.62 C1018.08,881.77 1021.67,881.92 1025.25,882.06 C1028.83,882.21 1034.21,882.43 1036.00,882.50" fill="none" stroke="#000" stroke-width="2.3" stroke-dasharray="3 5.7" stroke-dashoffset="1.46" stroke-linejoin="round"/><path d="M650.00,883.60 C651.90,883.60 657.59,883.58 661.39,883.58 C665.18,883.57 668.98,883.56 672.77,883.55 C676.57,883.54 680.37,883.53 684.16,883.52 C687.96,883.52 691.75,883.51 695.55,883.50 C699.35,883.49 703.14,883.48 706.94,883.48 C710.73,883.47 714.53,883.46 718.33,883.45 C722.12,883.44 725.92,883.43 729.71,883.42 C733.51,883.42 738.78,884.36 741.10,883.40 C742.39,882.86 742.69,881.82 743.60,880.90 C744.72,879.77 745.94,877.57 747.30,877.10 C748.44,876.71 749.47,877.37 751.00,877.60 C753.52,877.98 757.79,879.20 761.00,879.30 C763.97,879.40 766.63,878.75 769.60,878.40 C772.79,878.02 776.58,877.40 779.50,877.10 C781.80,876.87 783.63,876.80 785.70,876.65 C787.77,876.50 789.98,876.68 791.90,876.20 C793.70,875.75 795.18,874.89 796.90,874.00 C798.86,872.98 800.97,871.94 803.00,870.30 C805.51,868.26 807.94,864.21 810.50,862.30 C812.53,860.79 814.86,859.48 816.70,859.20 C818.05,858.99 819.02,859.25 820.40,859.80 C822.53,860.64 826.07,863.58 827.80,864.80 C828.76,865.47 829.10,865.81 830.00,866.40 C831.31,867.27 833.23,868.51 835.00,869.40 C836.85,870.33 839.06,871.99 840.90,871.80 C842.69,871.61 844.48,869.95 845.90,868.40 C847.53,866.62 848.59,863.83 849.80,861.40 C851.06,858.87 852.25,856.32 853.30,853.50 C854.44,850.42 855.56,846.50 856.30,843.60 C856.87,841.38 857.13,839.63 857.55,837.65 C857.97,835.67 858.41,834.03 858.80,831.70 C859.35,828.42 859.88,823.77 860.30,819.80 C860.72,815.84 861.02,811.26 861.30,807.90 C861.51,805.42 861.67,803.60 861.85,801.45 C862.03,799.30 862.23,797.42 862.40,795.00 C862.61,791.90 862.78,787.93 862.97,784.40 C863.16,780.87 863.34,777.33 863.53,773.80 C863.72,770.27 863.88,766.77 864.10,763.20 C864.32,759.57 864.60,755.87 864.85,752.20 C865.10,748.53 865.42,744.76 865.60,741.20 C865.77,737.86 865.82,734.71 865.93,731.47 C866.04,728.22 866.16,724.98 866.27,721.73 C866.38,718.49 866.47,715.13 866.60,712.00 C866.72,709.07 866.87,706.33 867.00,703.50 C867.13,700.67 867.28,697.86 867.40,695.00 C867.52,692.10 867.62,689.16 867.73,686.23 C867.84,683.31 867.96,680.39 868.07,677.47 C868.18,674.54 868.28,671.58 868.40,668.70 C868.52,665.90 868.64,663.17 868.77,660.40 C868.89,657.63 869.01,654.87 869.13,652.10 C869.26,649.33 869.37,646.57 869.50,643.80 C869.63,641.03 869.79,638.27 869.93,635.50 C870.08,632.73 870.22,629.97 870.37,627.20 C870.51,624.43 870.64,621.89 870.80,618.90 C870.98,615.37 871.20,611.20 871.40,607.35 C871.60,603.50 871.77,599.49 872.00,595.80 C872.21,592.40 872.47,589.27 872.70,586.00 C872.93,582.73 873.22,579.26 873.40,576.20 C873.56,573.51 873.63,571.13 873.75,568.60 C873.87,566.07 873.93,563.27 874.10,561.00 C874.23,559.16 874.38,557.62 874.60,556.00 C874.81,554.46 874.95,552.68 875.40,551.50 C875.73,550.63 876.25,549.43 876.70,549.40 C877.12,549.37 877.64,550.30 878.00,551.00 C878.51,552.00 878.81,553.52 879.10,555.00 C879.45,556.79 879.63,558.90 879.80,561.00 C879.98,563.30 880.00,565.83 880.10,568.25 C880.20,570.67 880.28,573.37 880.40,575.50 C880.49,577.18 880.57,578.19 880.70,580.00 C880.90,582.78 881.23,587.03 881.50,590.55 C881.77,594.07 882.06,597.57 882.30,601.10 C882.54,604.64 882.73,608.20 882.95,611.75 C883.17,615.30 883.38,618.77 883.60,622.40 C883.83,626.18 884.07,630.13 884.30,634.00 C884.53,637.87 884.78,641.99 885.00,645.60 C885.19,648.75 885.36,651.51 885.53,654.47 C885.71,657.42 885.89,660.38 886.07,663.33 C886.24,666.29 886.45,669.28 886.60,672.20 C886.74,675.05 886.82,677.84 886.93,680.67 C887.04,683.49 887.16,686.31 887.27,689.13 C887.38,691.96 887.45,694.91 887.60,697.60 C887.74,700.05 887.92,702.24 888.10,704.60 C888.29,707.02 888.50,709.50 888.70,711.95 C888.90,714.40 889.12,716.85 889.30,719.30 C889.48,721.74 889.63,724.17 889.80,726.60 C889.97,729.03 890.12,731.47 890.30,733.90 C890.48,736.33 890.70,738.77 890.90,741.20 C891.10,743.63 891.28,746.06 891.50,748.50 C891.72,750.95 891.97,753.40 892.20,755.85 C892.43,758.30 892.66,760.75 892.90,763.20 C893.14,765.64 893.40,768.07 893.65,770.50 C893.90,772.93 894.12,775.37 894.40,777.80 C894.68,780.24 895.03,782.67 895.35,785.10 C895.67,787.53 895.98,789.96 896.30,792.40 C896.63,794.85 896.97,797.30 897.30,799.75 C897.63,802.20 897.96,804.68 898.30,807.10 C898.63,809.45 898.97,811.73 899.30,814.05 C899.63,816.37 899.96,818.77 900.30,821.00 C900.61,823.06 900.93,824.97 901.25,826.95 C901.57,828.93 901.73,830.61 902.20,832.90 C902.85,836.08 903.88,840.55 905.00,844.20 C906.09,847.74 907.33,851.28 908.80,854.50 C910.18,857.53 911.67,860.57 913.50,863.00 C915.15,865.19 917.04,867.02 919.10,868.60 C921.12,870.15 923.47,871.29 925.70,872.40 C927.87,873.48 929.88,874.33 932.30,875.20 C935.13,876.22 938.54,877.30 941.70,878.00 C944.81,878.69 948.16,879.17 951.10,879.40 C953.68,879.60 955.97,879.43 958.40,879.45 C960.83,879.47 963.00,879.40 965.70,879.50 C969.08,879.63 973.29,879.98 977.10,880.30 C980.93,880.62 985.11,881.10 988.60,881.40 C991.51,881.65 993.93,881.80 996.60,882.00 C999.27,882.20 1001.75,882.48 1004.60,882.60 C1007.85,882.73 1011.58,882.64 1015.07,882.67 C1018.56,882.69 1022.04,882.71 1025.53,882.73 C1029.02,882.76 1034.26,882.79 1036.00,882.80" fill="none" stroke="#000" stroke-width="2.6" stroke-linejoin="round" stroke-linecap="round"/></g>
</svg></body></html>
